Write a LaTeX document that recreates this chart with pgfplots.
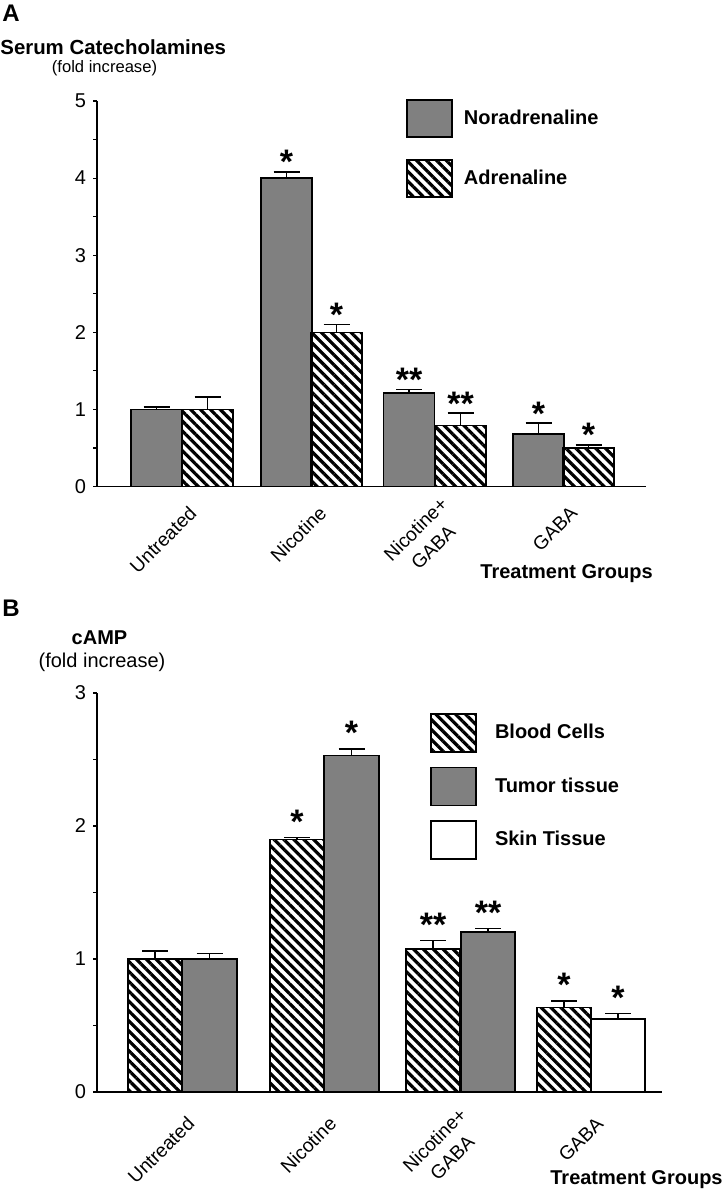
\documentclass[border=0pt]{standalone}
\usepackage{fontspec}
\setmainfont{Liberation Sans}
\usepackage{pgfplots}
\pgfplotsset{compat=1.18}
\usetikzlibrary{patterns.meta}

\definecolor{bargray}{RGB}{128,128,128}

\tikzset{
  hatch/.style={pattern={Lines[angle=-45,distance=3.5pt,line width=1.6pt]},pattern color=black},
  sig/.style={anchor=base,inner sep=0pt,font=\fontsize{17}{17}\selectfont\bfseries},
}

\pgfplotsset{
  panel/.style 2 args={
    scale only axis,
    ybar, bar shift=0pt,
    enlargelimits=false,
    axis x line*=bottom, axis y line*=left,
    axis line style={line width=0.8pt,-},
    minor y tick num=1,
    tick align=outside,
    major tick length=2pt, minor tick length=2pt,
    xtick style={draw=none},
    ytick style={line width=0.6pt,black},
    /pgf/number format/assume math mode=true,
    y tick label style={font=\fontsize{10}{10}\selectfont},
    x tick label style={font=\fontsize{9.6}{12.5}\selectfont,align=center,inner sep=0pt,
      xshift=#1,yshift=#2,rotate=45,anchor=east},
    legend cell align=left,
    legend style={draw=none,fill=none,inner sep=0pt,nodes={inner sep=0pt},
      font=\fontsize{10}{12}\selectfont\bfseries,anchor=north west},
    clip=false,
  },
  eb/.style={draw=black,line width=0.8pt,
    error bars/.cd,y dir=plus,y explicit,
    error bar style={line width=0.8pt,black},
    error mark options={black,line width=0.8pt,mark size=6.5pt,rotate=90}},
  boxA/.style={legend image code/.code={\draw[##1] (0pt,-9.25pt) rectangle (22.5pt,9.25pt);}},
  boxB/.style={legend image code/.code={\draw[##1] (0pt,-9.5pt) rectangle (22.5pt,9.5pt);}},
}

\begin{document}
\begin{tikzpicture}
\useasboundingbox (0,0) rectangle (361.5pt,-599.5pt);

% ---------------- panel A ----------------
\node[anchor=north west,inner sep=0pt,font=\fontsize{12}{12}\selectfont\bfseries] at (1pt,-2.5pt) {A};
\node[anchor=west,inner sep=0pt,font=\fontsize{10.2}{12}\selectfont\bfseries] at (0pt,-23.5pt) {Serum Catecholamines};
\node[inner sep=0pt,font=\fontsize{8.3}{10}\selectfont] at (52.25pt,-34pt) {(fold increase)};
\node[anchor=west,inner sep=0pt,font=\fontsize{10}{12}\selectfont\bfseries] at (240pt,-287pt) {Treatment Groups};

\begin{axis}[panel={5.5pt}{-9.5pt},
  at={(48.5pt,-243.25pt)}, anchor=south west,
  width=274.5pt, height=192.75pt,
  xmin=0, xmax=549, ymin=0, ymax=5,
  ytick={0,1,2,3,4,5},
  xtick={85,215,345,466},
  xticklabels={Untreated,Nicotine,{Nicotine+\\GABA},GABA},
  bar width=51,
  legend style={at={(0.5628,1.005)},row sep=10.5pt,column sep=5.5pt},
]
\addplot[fill=bargray,boxA,eb] coordinates {
  (59.5,1.00) +- (0,0.03)
  (189.5,4.00) +- (0,0.08)
  (312,1.21) +- (0,0.05)
  (441.5,0.68) +- (0,0.14)
};
\addlegendentry{Noradrenaline}
\addplot[fill=white,hatch,boxA,eb] coordinates {
  (110.5,1.00) +- (0,0.16)
  (239.5,2.00) +- (0,0.10)
  (363.5,0.79) +- (0,0.16)
  (491.5,0.50) +- (0,0.04)
};
\addlegendentry{Adrenaline}
\node[sig,yshift=-1pt] at (axis cs:189.5,4.08) {*};
\node[sig,yshift=-1pt] at (axis cs:239.5,2.10) {*};
\node[sig,yshift=-1pt] at (axis cs:312,1.26) {**};
\node[sig,yshift=-1pt] at (axis cs:363.5,0.95) {**};
\node[sig,yshift=-1pt] at (axis cs:441.5,0.82) {*};
\node[sig,yshift=-1pt] at (axis cs:491.5,0.54) {*};
\end{axis}

% ---------------- panel B ----------------
\node[anchor=north west,inner sep=0pt,font=\fontsize{12}{12}\selectfont\bfseries] at (1pt,-300pt) {B};
\node[inner sep=0pt,font=\fontsize{10}{12}\selectfont\bfseries] at (49.75pt,-319pt) {cAMP};
\node[inner sep=0pt,font=\fontsize{10}{12}\selectfont] at (51pt,-331pt) {(fold increase)};
\node[anchor=east,inner sep=0pt,font=\fontsize{10}{12}\selectfont\bfseries] at (361.5pt,-590pt) {Treatment Groups};

\begin{axis}[panel={4.5pt}{-12pt},
  at={(48.5pt,-546pt)}, anchor=south west,
  width=282.5pt, height=199.5pt,
  xmin=0, xmax=565, ymin=0, ymax=3,
  ytick={0,1,2,3},
  xtick={85,227,366,494},
  xticklabels={Untreated,Nicotine,{Nicotine+\\GABA},GABA},
  bar width=54.5,
  legend style={at={(0.5894,0.9506)},row sep=7pt,column sep=9pt},
]
\addplot[fill=white,hatch,boxB,eb] coordinates {
  (58,1.00) +- (0,0.06)
  (200,1.90) +- (0,0.015)
  (336,1.075) +- (0,0.065)
  (467,0.634) +- (0,0.052)
};
\addlegendentry{Blood Cells}
\addplot[fill=bargray,boxB,eb] coordinates {
  (112.5,1.00) +- (0,0.04)
  (254.5,2.53) +- (0,0.05)
  (391,1.203) +- (0,0.027)
};
\addlegendentry{Tumor tissue}
\addplot[fill=white,boxB,eb] coordinates {
  (521,0.547) +- (0,0.043)
};
\addlegendentry{Skin Tissue}
\node[sig,yshift=2pt] at (axis cs:200,1.915) {*};
\node[sig,yshift=2pt] at (axis cs:254.5,2.58) {*};
\node[sig,yshift=2pt] at (axis cs:336,1.14) {**};
\node[sig,yshift=2pt] at (axis cs:391,1.23) {**};
\node[sig,yshift=2pt] at (axis cs:467,0.686) {*};
\node[sig,yshift=2pt] at (axis cs:521,0.59) {*};
\end{axis}
\end{tikzpicture}
\end{document}
